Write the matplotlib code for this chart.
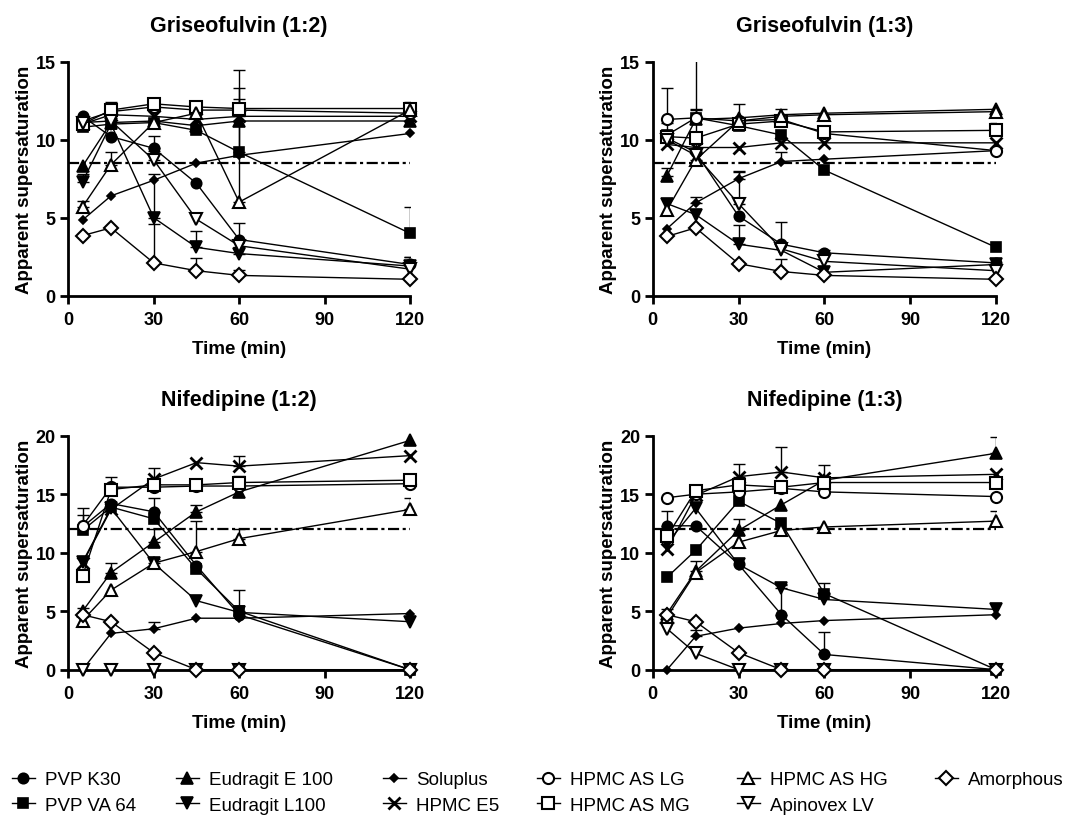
import numpy as np
import matplotlib
matplotlib.use('Agg')
import matplotlib.pyplot as plt
from matplotlib.lines import Line2D

plt.rcParams['font.family'] = ['Liberation Sans', 'DejaVu Sans']

time = [5, 15, 30, 45, 60, 120]
series_names = ['PVP K30', 'PVP VA 64', 'Eudragit E 100', 'Eudragit L100', 'Soluplus',
                'HPMC E5', 'HPMC AS LG', 'HPMC AS MG', 'HPMC AS HG', 'Apinovex LV', 'Amorphous']

# one row per series (same order as series_names), one column per time point
gri12_mean = [
    [11.5, 10.2, 9.45, 7.2, 3.6, 2.0],
    [10.8, 11.0, 11.1, 10.6, 9.2, 4.0],
    [8.3, 11.1, 11.2, 10.9, 11.2, 11.2],
    [7.3, 11.0, 5.0, 3.1, 2.7, 1.9],
    [4.85, 6.4, 7.4, 8.5, 9.0, 10.4],
    [11.0, 11.6, 11.5, 11.3, 11.5, 11.5],
    [11.2, 11.8, 12.1, 11.9, 11.9, 11.7],
    [11.0, 11.9, 12.3, 12.1, 12.0, 12.0],
    [5.7, 8.4, 11.1, 11.7, 6.0, 11.9],
    [11.1, 11.2, 8.7, 4.9, 3.2, 1.7],
    [3.85, 4.35, 2.1, 1.6, 1.3, 1.05],
]
gri12_err = [
    [0, 0, 0.8, 0, 1.05, 0.45],
    [0, 0, 0, 0, 4.1, 1.7],
    [0, 0, 0, 0, 0.3, 0],
    [0.5, 0, 2.8, 1.05, 0.4, 0.6],
    [0, 0, 0, 0, 0, 0],
    [0, 0, 0, 0, 0, 0],
    [0, 0, 0, 0, 0.7, 0],
    [0, 0.5, 0.4, 0.25, 0, 0.4],
    [0.4, 0.8, 0, 0, 8.5, 0],
    [0, 0, 0.6, 0, 0, 0],
    [0, 0, 2.5, 0.8, 0.35, 0],
]

gri13_mean = [
    [10.1, 9.2, 5.1, 3.3, 2.75, 2.1],
    [10.3, 11.4, 10.9, 10.3, 8.05, 3.1],
    [7.7, 11.3, 11.4, 11.6, 11.7, 11.95],
    [5.9, 5.2, 3.3, 2.9, 1.5, 2.0],
    [4.3, 5.95, 7.5, 8.6, 8.75, 9.3],
    [9.7, 9.5, 9.5, 9.8, 9.8, 9.8],
    [11.3, 11.4, 11.2, 11.3, 10.4, 9.3],
    [10.2, 10.1, 11.0, 11.2, 10.5, 10.6],
    [5.5, 8.7, 11.2, 11.5, 11.6, 11.8],
    [10.0, 9.0, 5.9, 3.0, 2.2, 1.6],
    [3.8, 4.35, 2.05, 1.55, 1.3, 1.05],
]
gri13_err = [
    [0, 0, 0, 1.4, 0.2, 0],
    [0.8, 0.5, 0, 0, 0, 0],
    [0.5, 0, 0.9, 0.4, 0, 0],
    [0, 0, 1.25, 0, 0, 0],
    [0, 0.35, 0.45, 0.6, 0, 0],
    [0, 0, 0, 0, 0, 0],
    [2.0, 0.6, 0, 0, 0, 0],
    [0, 0, 0, 0, 0, 0.5],
    [0, 7.0, 0, 0, 0, 0],
    [0, 0, 2.1, 0, 0, 0],
    [0, 0, 0, 0.8, 0, 0],
]

nif12_mean = [
    [12.2, 14.2, 13.5, 8.9, 4.7, 0],
    [11.9, 13.9, 12.9, 8.6, 5.0, 0],
    [5.0, 8.3, 10.9, 13.5, 15.2, 19.6],
    [9.2, 13.8, 9.1, 5.9, 4.9, 4.1],
    [0, 3.1, 3.5, 4.4, 4.4, 4.8],
    [9.1, 13.7, 16.3, 17.7, 17.4, 18.3],
    [12.3, 15.6, 15.6, 15.7, 15.7, 15.9],
    [8.0, 15.4, 15.8, 15.8, 16.0, 16.2],
    [4.2, 6.8, 9.1, 10.1, 11.2, 13.7],
    [0, 0, 0, 0, 0, 0],
    [4.7, 4.1, 1.45, 0, 0, 0],
]
nif12_err = [
    [1.0, 0, 1.2, 0, 0, 0],
    [0, 0, 0, 0, 1.8, 0],
    [0, 0.8, 1.1, 0.55, 0, 0],
    [0, 0, 0, 0, 0, 0],
    [0, 0, 0.55, 0, 0, 0],
    [0, 0, 0.9, 0, 0.9, 0],
    [1.5, 0.9, 0, 0, 0, 0],
    [0, 0, 0, 0, 0.6, 0.5],
    [0, 0, 0.4, 2.6, 0.8, 1.0],
    [0, 0, 0, 0, 0, 0],
    [0.6, 0, 0, 0, 0, 0],
]

nif13_mean = [
    [12.3, 12.3, 9.0, 4.7, 1.3, 0],
    [7.9, 10.2, 14.4, 12.5, 6.5, 0],
    [4.8, 8.4, 11.9, 14.1, 16.2, 18.5],
    [10.8, 13.8, 9.0, 7.0, 6.0, 5.15],
    [0, 2.85, 3.55, 3.95, 4.2, 4.7],
    [10.3, 14.9, 16.5, 16.9, 16.4, 16.7],
    [14.7, 15.0, 15.2, 15.5, 15.2, 14.8],
    [11.4, 15.3, 15.8, 15.6, 16.0, 16.0],
    [4.5, 8.3, 10.9, 11.9, 12.2, 12.7],
    [3.5, 1.4, 0, 0, 0, 0],
    [4.7, 4.1, 1.45, 0, 0, 0],
]
nif13_err = [
    [1.3, 0, 0, 2.5, 1.9, 0],
    [0, 0, 0, 0, 0.9, 0],
    [0, 0.9, 1.0, 0, 1.3, 1.4],
    [0, 0, 0, 0.3, 0, 0],
    [0, 0.5, 0, 0, 0, 0],
    [0, 0, 1.1, 2.1, 0, 0],
    [0, 0, 0, 0, 0, 0],
    [0.6, 0, 0, 0, 0, 0],
    [0, 0, 0, 0, 0, 0.9],
    [0, 0, 0, 0, 0, 0],
    [0.5, 0, 0, 0, 0, 0],
]

titles = ['Griseofulvin (1:2)', 'Griseofulvin (1:3)', 'Nifedipine (1:2)', 'Nifedipine (1:3)']
threshold = [8.5, 8.5, 12.0, 12.0]
ymax = [15, 15, 20, 20]

# marker, filled?, size, edge width
styles = [
    ('o', True, 7.5, 1.2),
    ('s', True, 7.5, 1.2),
    ('^', True, 8, 1.2),
    ('v', True, 8, 1.2),
    ('D', True, 4.5, 1.2),
    ('x', True, 8, 2.0),
    ('o', False, 8, 1.5),
    ('s', False, 8, 1.5),
    ('^', False, 9, 1.5),
    ('v', False, 9, 1.5),
    ('D', False, 7, 1.5),
]

fig = plt.figure(figsize=(10.72, 8.2), dpi=100)
rects = [
    [0.0637, 0.6382, 0.3188, 0.2853],
    [0.6089, 0.6382, 0.3202, 0.2853],
    [0.0637, 0.1821, 0.3188, 0.2853],
    [0.6089, 0.1821, 0.3202, 0.2853],
]
panels = [(gri12_mean, gri12_err), (gri13_mean, gri13_err),
          (nif12_mean, nif12_err), (nif13_mean, nif13_err)]

for k, (means, errs) in enumerate(panels):
    ax = fig.add_axes(rects[k])
    ax.plot([0, 120], [threshold[k], threshold[k]], color='black', lw=1.6,
            linestyle=(0, (5, 1.6, 1.4, 1.6)), zorder=1)
    for i, name in enumerate(series_names):
        y = np.array(means[i], dtype=float)
        e = np.array(errs[i], dtype=float)
        t = np.array(time, dtype=float)
        mk, filled, ms, mew = styles[i]
        has = e > 0
        if has.any():
            ax.errorbar(t[has], y[has], yerr=[np.zeros(has.sum()), e[has]], fmt='none',
                        ecolor='black', elinewidth=1.0, capsize=4, capthick=1.0, zorder=2)
        ax.plot(t, y, color='black', lw=1.0, marker=mk, ms=ms, mew=mew,
                mfc='black' if filled else 'white', mec='black', clip_on=False, zorder=3)
    ax.set_xlim(0, 120)
    ax.set_ylim(0, ymax[k])
    ax.set_xticks([0, 30, 60, 90, 120])
    ax.set_yticks(np.arange(0, ymax[k] + 1, 5))
    for side in ['top', 'right']:
        ax.spines[side].set_visible(False)
    for side in ['left', 'bottom']:
        ax.spines[side].set_linewidth(2.0)
    ax.tick_params(width=2.0, length=6, labelsize=13)
    ax.tick_params(axis='x', pad=5)
    ax.tick_params(axis='y', pad=3)
    for lab in ax.get_xticklabels() + ax.get_yticklabels():
        lab.set_fontweight('bold')
    ax.set_xlabel('Time (min)', fontsize=13.5, fontweight='bold', labelpad=9)
    ax.set_ylabel('Apparent supersaturation', fontsize=13.5, fontweight='bold', labelpad=2)
    ax.set_title(titles[k], fontsize=15.5, fontweight='bold', pad=22)

handles = []
for i, name in enumerate(series_names):
    mk, filled, ms, mew = styles[i]
    handles.append(Line2D([], [], color='black', lw=1.0, marker=mk, ms=ms, mew=mew,
                          mfc='black' if filled else 'white', mec='black', label=name))

# legend laid out as six columns of two entries, as in the original figure
col_left = [12, 176, 383, 537, 737, 935]
for c, x0 in enumerate(col_left):
    fig.legend(handles=handles[2 * c:2 * c + 2], loc='upper left',
               bbox_to_anchor=(x0 / 1072, 1 - 772 / 820), frameon=False, fontsize=13.5,
               handlelength=1.2, handletextpad=0.55, labelspacing=0.45, borderpad=0,
               borderaxespad=0)

fig.savefig('out.png', dpi=100)
